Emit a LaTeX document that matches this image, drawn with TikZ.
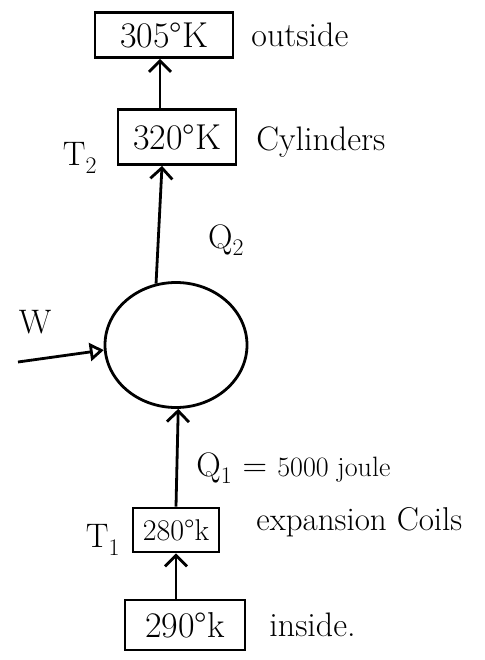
\documentclass[tikz,border=0pt]{standalone}
\usepackage{fontspec}
\usetikzlibrary{arrows.meta,shapes.geometric}
\begin{document}
\begin{tikzpicture}[x=1pt,y=-1pt,
  line width=2.8pt,
  every node/.style={font=\fontsize{34}{38}\selectfont},
  tbox/.style={draw,line width=2.8pt,inner sep=0pt,minimum height=#1},
  tbox/.default=46pt,
  lbl/.style={anchor=west,inner sep=0pt},
  flow/.style={-{Straight Barb[length=11pt,width=22pt,line width=2.8pt]}},
  work/.style={-{Triangle[open,length=14pt,width=18pt,line width=2.8pt]}}]
\useasboundingbox (0,0) rectangle (484,660);
% boxes
\node[tbox=45pt,minimum width=138pt,font=\fontsize{36}{40}\selectfont] (b305) at (164,35) {305°K};
\node[tbox=55pt,minimum width=118pt,font=\fontsize{36}{40}\selectfont] (b320) at (177,137) {320°K};
\node[tbox=44pt,minimum width=86pt,font=\fontsize{30}{34}\selectfont] (b280) at (176,530) {280°k};
\node[tbox=50pt,minimum width=120pt,font=\fontsize{36}{40}\selectfont] (b290) at (185,625) {290°k};
% engine
\node[draw,ellipse,minimum width=142pt,minimum height=125pt,line width=2.8pt] (eng) at (176,345) {};
% labels
\node[lbl] (lout) at (250,35) {outside};
\node[lbl] (lcyl) at (255,142) {Cylinders};
\node (lt2) at (80,158) {T\textsubscript{2}};
\node (lq2) at (226,240) {Q\textsubscript{2}};
\node (lw) at (35,322) {W};
\node[lbl] (lq1) at (195,468) {Q\textsubscript{1} = {\fontsize{28}{32}\selectfont 5000 joule}};
\node (lt1) at (103,540) {T\textsubscript{1}};
\node[lbl,font=\fontsize{33}{37}\selectfont] (lexp) at (255,522) {expansion Coils};
\node[lbl] (lin) at (268,625) {inside.};
\coordinate (wstart) at (18,362);
% connectors
\draw[flow] ([xshift=-17pt]b320.north) -- ([xshift=-4pt]b305.south);
\draw[flow] (eng.108) -- ([xshift=-15pt]b320.south);
\draw[work] (wstart) -- (eng.184);
\draw[flow] (b280.north) -- (eng.272);
\draw[flow] ([xshift=-9pt]b290.north) -- (b280.south);
\end{tikzpicture}
\end{document}
